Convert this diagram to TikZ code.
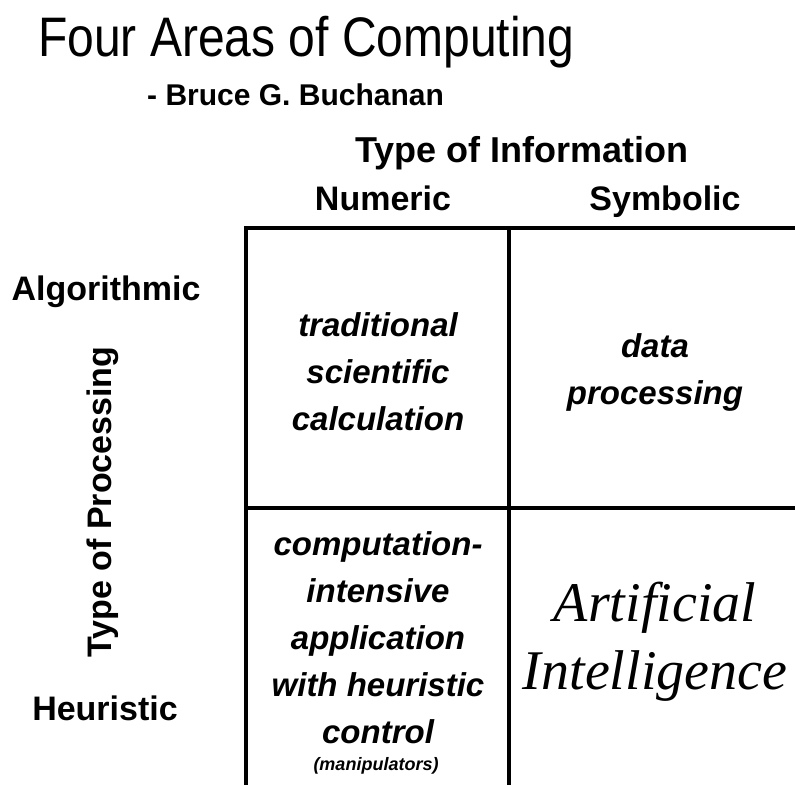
\documentclass[tikz,border=0pt]{standalone}
\usepackage{graphicx}
\usepackage{fontspec}
\setmainfont{Liberation Sans}
\newfontfamily\aifont{Liberation Serif}
\tikzset{
  grid line/.style={line width=4.5pt, line join=miter},
  titletext/.style={anchor=base west, inner sep=0pt, font=\fontsize{48}{56}\selectfont},
  bylinetext/.style={anchor=base west, inner sep=0pt, font=\bfseries\fontsize{30}{36}\selectfont},
  headtext/.style={anchor=base, inner sep=0pt, font=\bfseries\fontsize{34}{40}\selectfont},
  celltext/.style={align=center, inner sep=0pt, font=\bfseries\itshape\fontsize{33}{47}\selectfont},
  aitext/.style={align=center, inner sep=0pt, font=\aifont\itshape\fontsize{56}{68}\selectfont},
  smalltext/.style={anchor=base, inner sep=0pt, font=\bfseries\itshape\fontsize{18}{22}\selectfont}
}
\begin{document}
\begin{tikzpicture}[x=1pt, y=-1pt]
\useasboundingbox (0,0) rectangle (795,785);

% heading and author
\node[titletext] (title) at (38,56) {\scalebox{1}[1.16]{Four Areas of Computing}};
\node[bylinetext] (byline) at (147,105) {- Bruce G. Buchanan};

% column axis
\node[headtext, font=\bfseries\fontsize{36}{42}\selectfont] (infotype) at (522,162) {Type of Information};
\node[headtext] (numeric) at (383,210) {Numeric};
\node[headtext] (symbolic) at (665,210) {Symbolic};

% row axis
\node[headtext] (algorithmic) at (106,300) {Algorithmic};
\node[headtext] (heuristic) at (105,720) {Heuristic};
\node[headtext, anchor=center, rotate=90] (proctype) at (103,502) {Type of Processing};

% the grid, open at the right and bottom
\coordinate (tl) at (246,228);
\coordinate (tr) at (795,228);
\coordinate (bl) at (246,785);
\coordinate (tm) at (509,228);
\coordinate (bm) at (509,785);
\coordinate (ml) at (246,508);
\coordinate (mr) at (795,508);
\draw[grid line] (tr) -- (tl) -- (bl);
\draw[grid line] (tm) -- (bm);
\draw[grid line] (ml) -- (mr);

% quadrants
\node[celltext] (sci) at (378,372) {traditional\\scientific\\calculation};
\node[celltext] (dp) at (655,372) {data\\processing};
\node[celltext] (heur) at (378,638) {computation-\\intensive\\application\\with heuristic\\control};
\node[smalltext] (manip) at (376,770) {(manipulators)};
\node[aitext] (ai) at (655,642) {Artificial\\Intelligence};
\end{tikzpicture}
\end{document}
